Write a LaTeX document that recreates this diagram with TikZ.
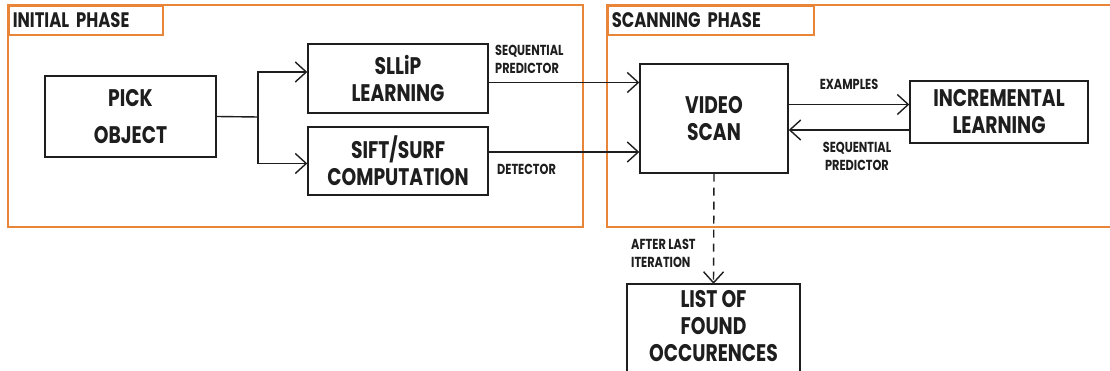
\documentclass[tikz,border=0pt]{standalone}
\usepackage{fontspec}
\setmainfont{Poppins}[FakeStretch=0.78]
\usetikzlibrary{arrows.meta}
\definecolor{phaseorange}{RGB}{232,133,56}
\definecolor{ink}{RGB}{30,30,30}
\tikzset{
  boxtext/.style={font=\fontsize{24}{27}\selectfont\bfseries, text=ink, align=center},
  block/.style={draw=ink, line width=1.4pt, boxtext, inner sep=0pt},
  phase/.style={draw=phaseorange, line width=1.6pt},
  phasetitle/.style={draw=phaseorange, line width=1.6pt, anchor=north west, inner sep=0pt,
    font=\fontsize{21}{22}\selectfont\bfseries, text=ink},
  lbl/.style={font=\fontsize{14.5}{18}\selectfont\bfseries, text=ink, inner sep=0pt},
  arr/.style={draw=ink, line width=1.4pt, -{Straight Barb[length=11pt,width=20pt,line width=1.4pt]}},
  conn/.style={draw=ink, line width=1.4pt},
}
\begin{document}
\begin{tikzpicture}[x=1pt,y=-1pt]
\clip (0,0) rectangle (1110,371);
\fill[white] (0,0) rectangle (1110,371);
% phase frames
\draw[phase] (8,5) rectangle (583,227);
\draw[phase] (607,5) rectangle (1120,227);
\node[phasetitle, minimum width=154pt, minimum height=29pt, text width=146pt, align=left] (t1) at (8,5) {INITIAL PHASE};
\node[phasetitle, minimum width=206pt, minimum height=29pt, text width=198pt, align=left] (t2) at (607,5) {SCANNING PHASE};
% blocks
\node[block, minimum width=171pt, minimum height=81pt, font=\fontsize{24}{37}\selectfont\bfseries] (pick) at (130.5,116.5) {PICK\\OBJECT};
\node[block, minimum width=180pt, minimum height=69pt] (sllip) at (398,78.5) {SLLiP\\LEARNING};
\node[block, minimum width=180pt, minimum height=68pt] (sift) at (398,161) {SIFT/SURF\\COMPUTATION};
\node[block, minimum width=148pt, minimum height=109pt] (video) at (714,118.5) {VIDEO\\SCAN};
\node[block, minimum width=178pt, minimum height=62pt] (incr) at (999,112) {INCREMENTAL\\LEARNING};
\node[boxtext, inner sep=0pt, minimum width=173pt, minimum height=85pt] (list) at (713.5,326.5) {LIST OF\\FOUND\\OCCURENCES};
\draw[conn] (list.north west) rectangle ++(173,110);
% connectors
\coordinate (br) at (258,117);
\draw[conn] (pick.east) -- (br);
\draw[arr] (br) |- ([yshift=6.5pt]sllip.west);
\draw[arr] (br) |- ([yshift=-2.5pt]sift.west);
\draw[arr] ([yshift=-4pt]sllip.east) -- ([yshift=-4pt]sllip.east -| video.west);
\draw[arr] ([yshift=9pt]sift.east) -- ([yshift=9pt]sift.east -| video.west);
\draw[arr] ([yshift=14pt]video.east) -- ([yshift=14pt]video.east -| incr.west);
\draw[arr] ([yshift=-18pt]incr.west) -- ([yshift=-18pt]incr.west -| video.east);
\draw[arr, dash pattern=on 8pt off 6pt] (video.south) -- (list.north);
% labels
\node[lbl, anchor=west, align=left] (l1) at (495,59) {SEQUENTIAL\\PREDICTOR};
\node[lbl, anchor=west] (l2) at (497,169) {DETECTOR};
\node[lbl] (l3) at (849,84) {EXAMPLES};
\node[lbl, align=center] (l4) at (857,156) {SEQUENTIAL\\PREDICTOR};
\node[lbl, anchor=west, align=left] (l5) at (631,253) {AFTER LAST\\ITERATION};
\end{tikzpicture}
\end{document}
